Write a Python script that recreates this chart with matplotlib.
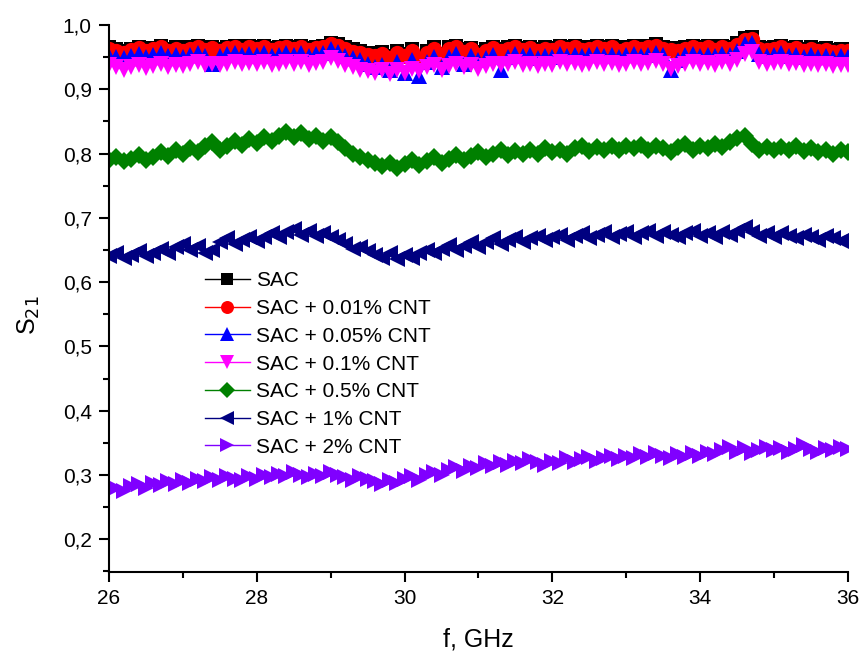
import numpy as np
import matplotlib
matplotlib.use("Agg")
import matplotlib.pyplot as plt
from matplotlib.ticker import MultipleLocator, FuncFormatter

plt.rcParams['font.family'] = ['Liberation Sans', 'DejaVu Sans']

# Frequency sweep, 26-36 GHz in 0.1 GHz steps
freq = np.linspace(26.0, 36.0, 101)

s21_sac = [
    0.965, 0.962, 0.960, 0.963, 0.966, 0.962, 0.964, 0.967, 0.963, 0.965,
    0.962, 0.965, 0.968, 0.964, 0.966, 0.963, 0.966, 0.968, 0.964, 0.967,
    0.965, 0.967, 0.964, 0.966, 0.968, 0.965, 0.967, 0.964, 0.966, 0.968,
    0.972, 0.970, 0.965, 0.962, 0.960, 0.957, 0.955, 0.958, 0.952, 0.960,
    0.955, 0.962, 0.950, 0.960, 0.966, 0.955, 0.965, 0.968, 0.962, 0.964,
    0.958, 0.962, 0.966, 0.963, 0.965, 0.968, 0.964, 0.966, 0.962, 0.966,
    0.964, 0.968, 0.965, 0.967, 0.964, 0.966, 0.968, 0.965, 0.967, 0.963,
    0.966, 0.968, 0.965, 0.967, 0.970, 0.966, 0.964, 0.962, 0.966, 0.968,
    0.965, 0.967, 0.964, 0.968, 0.966, 0.972, 0.980, 0.982, 0.966, 0.964,
    0.966, 0.968, 0.964, 0.966, 0.963, 0.965, 0.962, 0.964, 0.961, 0.963,
    0.962,
]

s21_cnt001 = [
    0.962, 0.959, 0.957, 0.961, 0.964, 0.959, 0.962, 0.965, 0.960, 0.963,
    0.959, 0.963, 0.966, 0.961, 0.964, 0.960, 0.964, 0.966, 0.961, 0.965,
    0.962, 0.965, 0.961, 0.964, 0.966, 0.962, 0.965, 0.961, 0.964, 0.966,
    0.970, 0.967, 0.962, 0.958, 0.956, 0.953, 0.951, 0.955, 0.948, 0.957,
    0.951, 0.959, 0.946, 0.957, 0.963, 0.951, 0.962, 0.966, 0.958, 0.962,
    0.954, 0.959, 0.964, 0.960, 0.962, 0.966, 0.961, 0.964, 0.959, 0.963,
    0.961, 0.966, 0.962, 0.965, 0.961, 0.963, 0.966, 0.962, 0.965, 0.960,
    0.963, 0.966, 0.962, 0.965, 0.968, 0.963, 0.961, 0.959, 0.963, 0.966,
    0.962, 0.965, 0.961, 0.966, 0.963, 0.969, 0.976, 0.978, 0.963, 0.961,
    0.963, 0.966, 0.961, 0.964, 0.960, 0.962, 0.959, 0.961, 0.958, 0.960,
    0.959,
]

s21_cnt005 = [
    0.952, 0.950, 0.948, 0.952, 0.955, 0.950, 0.953, 0.956, 0.952, 0.954,
    0.950, 0.953, 0.956, 0.952, 0.940, 0.952, 0.955, 0.957, 0.953, 0.955,
    0.953, 0.956, 0.952, 0.954, 0.957, 0.954, 0.956, 0.952, 0.955, 0.957,
    0.962, 0.958, 0.952, 0.948, 0.945, 0.940, 0.935, 0.938, 0.930, 0.942,
    0.925, 0.945, 0.920, 0.942, 0.950, 0.935, 0.950, 0.955, 0.940, 0.952,
    0.945, 0.948, 0.953, 0.930, 0.950, 0.955, 0.951, 0.953, 0.948, 0.952,
    0.950, 0.955, 0.952, 0.954, 0.951, 0.953, 0.955, 0.952, 0.954, 0.950,
    0.953, 0.955, 0.952, 0.954, 0.957, 0.953, 0.930, 0.945, 0.953, 0.955,
    0.952, 0.954, 0.951, 0.955, 0.953, 0.960, 0.970, 0.972, 0.955, 0.952,
    0.954, 0.956, 0.952, 0.954, 0.950, 0.953, 0.950, 0.952, 0.949, 0.951,
    0.950,
]

s21_cnt01 = [
    0.938, 0.934, 0.930, 0.934, 0.938, 0.933, 0.936, 0.940, 0.935, 0.938,
    0.936, 0.939, 0.942, 0.938, 0.940, 0.937, 0.940, 0.943, 0.939, 0.941,
    0.939, 0.942, 0.938, 0.940, 0.943, 0.940, 0.942, 0.938, 0.941, 0.943,
    0.948, 0.944, 0.938, 0.934, 0.930, 0.928, 0.926, 0.930, 0.924, 0.930,
    0.926, 0.932, 0.928, 0.934, 0.938, 0.930, 0.936, 0.940, 0.934, 0.938,
    0.932, 0.936, 0.940, 0.937, 0.939, 0.942, 0.938, 0.940, 0.936, 0.940,
    0.938, 0.942, 0.939, 0.941, 0.938, 0.940, 0.942, 0.939, 0.941, 0.937,
    0.940, 0.942, 0.939, 0.941, 0.944, 0.940, 0.932, 0.936, 0.940, 0.942,
    0.939, 0.941, 0.938, 0.942, 0.940, 0.946, 0.955, 0.958, 0.942, 0.939,
    0.941, 0.943, 0.939, 0.941, 0.937, 0.940, 0.937, 0.939, 0.936, 0.938,
    0.937,
]

s21_cnt05 = [
    0.790, 0.795, 0.788, 0.792, 0.798, 0.790, 0.795, 0.802, 0.796, 0.805,
    0.800, 0.808, 0.803, 0.812, 0.818, 0.806, 0.812, 0.820, 0.814, 0.822,
    0.816, 0.826, 0.820, 0.828, 0.834, 0.826, 0.832, 0.822, 0.828, 0.820,
    0.826, 0.818, 0.808, 0.800, 0.795, 0.790, 0.785, 0.780, 0.786, 0.778,
    0.784, 0.790, 0.782, 0.788, 0.795, 0.786, 0.792, 0.798, 0.790, 0.796,
    0.802, 0.794, 0.800, 0.806, 0.798, 0.804, 0.799, 0.806, 0.800, 0.808,
    0.802, 0.806, 0.800, 0.808, 0.812, 0.804, 0.810, 0.806, 0.812, 0.806,
    0.812, 0.808, 0.814, 0.806, 0.812, 0.808, 0.802, 0.810, 0.815, 0.806,
    0.812, 0.808, 0.815, 0.810, 0.818, 0.824, 0.828, 0.815, 0.806, 0.810,
    0.805, 0.810, 0.806, 0.812, 0.804, 0.808, 0.802, 0.806, 0.800, 0.805,
    0.802,
]

s21_cnt1 = [
    0.640, 0.645, 0.638, 0.642, 0.648, 0.640, 0.646, 0.652, 0.645, 0.655,
    0.660, 0.650, 0.656, 0.645, 0.650, 0.662, 0.668, 0.660, 0.665, 0.670,
    0.664, 0.670, 0.676, 0.670, 0.678, 0.682, 0.674, 0.680, 0.672, 0.676,
    0.670, 0.665, 0.660, 0.652, 0.655, 0.648, 0.642, 0.638, 0.645, 0.636,
    0.642, 0.638, 0.646, 0.650, 0.645, 0.652, 0.658, 0.650, 0.656, 0.662,
    0.655, 0.662, 0.668, 0.660, 0.665, 0.670, 0.662, 0.668, 0.672, 0.665,
    0.670, 0.674, 0.666, 0.672, 0.676, 0.668, 0.674, 0.678, 0.670, 0.675,
    0.678, 0.670, 0.676, 0.680, 0.672, 0.678, 0.674, 0.670, 0.676, 0.680,
    0.672, 0.676, 0.670, 0.678, 0.674, 0.680, 0.686, 0.678, 0.672, 0.676,
    0.670, 0.676, 0.672, 0.668, 0.674, 0.670, 0.665, 0.672, 0.668, 0.664,
    0.668,
]

s21_cnt2 = [
    0.276, 0.280, 0.275, 0.282, 0.286, 0.280, 0.288, 0.284, 0.290, 0.286,
    0.292, 0.288, 0.294, 0.290, 0.296, 0.292, 0.298, 0.294, 0.292, 0.298,
    0.294, 0.300, 0.296, 0.302, 0.298, 0.304, 0.300, 0.296, 0.302, 0.298,
    0.304, 0.300, 0.296, 0.292, 0.298, 0.294, 0.290, 0.286, 0.292, 0.288,
    0.294, 0.298, 0.292, 0.300, 0.304, 0.300, 0.308, 0.312, 0.306, 0.314,
    0.310, 0.318, 0.314, 0.320, 0.316, 0.322, 0.318, 0.324, 0.320, 0.316,
    0.322, 0.318, 0.326, 0.320, 0.324, 0.328, 0.322, 0.326, 0.330, 0.324,
    0.330, 0.326, 0.332, 0.328, 0.334, 0.330, 0.326, 0.332, 0.328, 0.334,
    0.330, 0.336, 0.332, 0.338, 0.344, 0.336, 0.342, 0.334, 0.338, 0.344,
    0.338, 0.342, 0.336, 0.340, 0.346, 0.340, 0.336, 0.342, 0.338, 0.344,
    0.340,
]

labels = ["SAC", "SAC + 0.01% CNT", "SAC + 0.05% CNT", "SAC + 0.1% CNT",
          "SAC + 0.5% CNT", "SAC + 1% CNT", "SAC + 2% CNT"]
series = [s21_sac, s21_cnt001, s21_cnt005, s21_cnt01, s21_cnt05, s21_cnt1, s21_cnt2]
colors = ["#000000", "#ff0000", "#0000ff", "#ff00ff", "#008000", "#000080", "#8000ff"]
markers = ["s", "o", "^", "v", "D", "<", ">"]
msizes = [10, 11, 11.5, 11.5, 9.5, 11.5, 11.5]

fig = plt.figure(figsize=(8.63, 6.57), dpi=100)
ax = fig.add_axes([0.1263, 0.1294, 0.8563, 0.8326])

for y, lab, c, m, ms in zip(series, labels, colors, markers, msizes):
    ax.plot(freq, y, color=c, lw=1.0, marker=m, markersize=ms,
            markeredgewidth=0, label=lab)

ax.set_xlim(26, 36)
ax.set_ylim(0.149, 1.0)

ax.spines['top'].set_visible(False)
ax.spines['right'].set_visible(False)
for s in ('left', 'bottom'):
    ax.spines[s].set_linewidth(1.5)

ax.xaxis.set_major_locator(MultipleLocator(2))
ax.xaxis.set_minor_locator(MultipleLocator(1))
ax.yaxis.set_major_locator(MultipleLocator(0.1))
ax.yaxis.set_minor_locator(MultipleLocator(0.05))
ax.yaxis.set_major_formatter(FuncFormatter(lambda v, p: f"{v:.1f}".replace(".", ",")))

ax.tick_params(which='major', direction='out', length=7.5, width=1.5,
               labelsize=15, pad=5)
ax.tick_params(which='minor', direction='out', length=4, width=1.5)

ax.set_xlabel("f, GHz", fontsize=18, labelpad=14)
ax.set_ylabel("S$_{21}$", fontsize=18)
ax.yaxis.set_label_coords(-0.09, 0.47)

leg = ax.legend(loc='upper left', bbox_to_anchor=(0.118, 0.565), frameon=False,
                fontsize=15, handlelength=2.2, handletextpad=0.25,
                labelspacing=0.42, borderaxespad=0, markerscale=0.85)

fig.savefig("out.png", dpi=100)
